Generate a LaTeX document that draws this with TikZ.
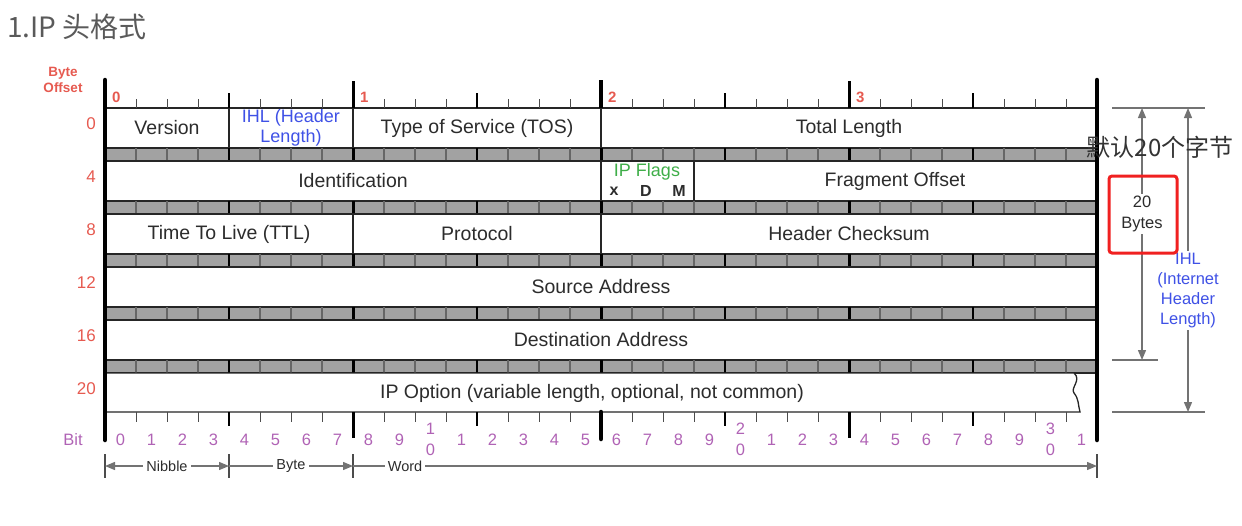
\documentclass[tikz,border=0pt]{standalone}
\usepackage{fontspec}
\setmainfont{Liberation Sans}
\newfontfamily\cjk{Noto Sans CJK SC}
\usetikzlibrary{arrows.meta, positioning, calc}
\definecolor{fieldtext}{HTML}{2C2C2C}
\definecolor{offsetred}{HTML}{E65A50}
\definecolor{bitpurple}{HTML}{B063B5}
\definecolor{flaggreen}{HTML}{3FAE49}
\definecolor{ihlblue}{HTML}{3F51E6}
\definecolor{bargrey}{HTML}{A2A2A2}
\definecolor{titlegrey}{HTML}{5A5A5A}
\definecolor{notered}{HTML}{F02020}
\begin{document}
\begin{tikzpicture}[x=1pt, y=-1pt,
    >={Triangle[length=10pt, width=8pt]},
    fld/.style={font=\fontsize{19.5}{21}\selectfont, text=fieldtext, inner sep=0pt, align=center},
    offs/.style={font=\fontsize{17}{19}\selectfont, text=offsetred, anchor=east, inner sep=0pt},
    bytelbl/.style={font=\bfseries\fontsize{15}{17}\selectfont, text=offsetred, anchor=west, inner sep=0pt},
    bitlbl/.style={font=\fontsize{16.5}{18}\selectfont, text=bitpurple, inner sep=0pt},
    unitlbl/.style={font=\fontsize{14.5}{16}\selectfont, text=fieldtext, fill=white, inner sep=3pt},
    box/.style={draw=black!85, line width=1.3pt, fill=white},
    sep/.style={black!85, line width=1.3pt},
    border/.style={black, line width=4.5pt, line cap=round},
    dim/.style={black!55, line width=1.3pt},
    bartick/.style={black!60, line width=1.2pt}]
  \useasboundingbox (0,0) rectangle (1242,525);
  \node[font=\cjk\fontsize{28}{30}\selectfont, text=titlegrey, anchor=west, inner sep=0pt] (title) at (7,27) {1.IP 头格式};
  % rows with grey bars below
  \foreach \r in {0,...,4} {
    \draw[box] (105,108+53*\r) rectangle (1097,148+53*\r);
    \fill[bargrey] (105,148+53*\r) rectangle (1097,161+53*\r);
    \draw[black!85, line width=1.2pt] (105,148+53*\r) -- (1097,148+53*\r) (105,161+53*\r) -- (1097,161+53*\r);
    \foreach \b in {1,...,31}
      \draw[bartick] (105+31*\b,148+53*\r) -- ++(0,13);
    \foreach \b in {4,12,20,28}
      \draw[black, line width=2.2pt] (105+31*\b,148+53*\r) -- ++(0,13);
    \foreach \b in {8,16,24}
      \draw[black, line width=3pt] (105+31*\b,148+53*\r) -- ++(0,13);
  }
  \draw[box] (105,373) -- (1074,373) .. controls (1082,380) and (1070,388) .. (1074,393) .. controls (1079,399) and (1078,405) .. (1080,412) -- (105,412) -- cycle;
  % rulers
  \foreach \b in {1,...,31} {
    \draw[black!70, line width=1pt] (105+31*\b,99) -- (105+31*\b,108);
    \draw[black!70, line width=1pt] (105+31*\b,412) -- (105+31*\b,422);
  }
  \foreach \b in {4,12,20,28} {
    \draw[black, line width=2pt] (105+31*\b,93) -- (105+31*\b,108);
    \draw[black, line width=2pt] (105+31*\b,412) -- (105+31*\b,426);
  }
  \foreach \b in {8,24} {
    \draw[black, line width=3pt] (105+31*\b,81) -- (105+31*\b,108);
    \draw[black, line width=3pt] (105+31*\b,412) -- (105+31*\b,438);
  }
  \draw[black, line width=4.5pt] (601,80) -- (601,108);
  \draw[black, line width=4.5pt, line cap=round] (601,412) -- (601,439);
  % field separators
  \foreach \x in {229,353,601} \draw[sep] (\x,108) -- (\x,148);
  \foreach \x in {601,694} \draw[sep] (\x,161) -- (\x,201);
  \foreach \x in {353,601} \draw[sep] (\x,214) -- (\x,254);
  \draw[border] (105,80) -- (105,440);
  \draw[border] (1097,80) -- (1097,440);
  % fields
  \node[fld] (version) at (167,128) {Version};
  \node[fld, text=ihlblue, font=\fontsize{18}{19.5}\selectfont] (ihl) at (291,128) {IHL (Header\\Length)};
  \node[fld] (tos) at (477,128) {Type of Service (TOS)};
  \node[fld] (totlen) at (849,128) {Total Length};
  \node[fld] (ident) at (353,181) {Identification};
  \node[fld, text=flaggreen, font=\fontsize{18}{20}\selectfont] (flags) at (647,172) {IP Flags};
  \foreach \f/\x in {x/614, D/646, M/679}
    \node[fld, font=\bfseries\fontsize{16}{18}\selectfont] (flag\f) at (\x,191) {\f};
  \node[fld] (fragoff) at (895,181) {Fragment Offset};
  \node[fld] (ttl) at (229,234) {Time To Live (TTL)};
  \node[fld] (proto) at (477,234) {Protocol};
  \node[fld] (cksum) at (849,234) {Header Checksum};
  \node[fld] (src) at (601,287) {Source Address};
  \node[fld] (dst) at (601,340) {Destination Address};
  \node[fld] (opt) at (592,393) {IP Option (variable length, optional, not common)};
  % offsets and bit numbers
  \node[font=\bfseries\fontsize{13.5}{15.5}\selectfont, text=offsetred, align=center, inner sep=0pt] (byteoff) at (63,80) {Byte\\Offset};
  \foreach \o [count=\r from 0] in {0,4,8,12,16,20}
    \node[offs] (off\o) at (96,124+53*\r) {\o};
  \foreach \n in {0,...,3}
    \node[bytelbl] (byte\n) at (112+248*\n,97) {\n};
  \node[bitlbl] (bitlbl) at (73,440) {Bit};
  \foreach \t in {0,1,2} {
    \foreach \u in {1,...,9}
      \node[bitlbl] (bit\t\u) at (120.5+310*\t+31*\u,440) {\u};
  }
  \node[bitlbl] (bit00) at (120.5,440) {0};
  \node[bitlbl] (bit31) at (120.5+31*31,440) {1};
  \foreach \t in {1,2,3} {
    \node[bitlbl] (tens\t) at (120.5+310*\t,429) {\t};
    \node[bitlbl] (ones\t) at (120.5+310*\t,450) {0};
  }
  % nibble / byte / word
  \foreach \x [count=\i from 0] in {105,229,353,1097} {
    \coordinate (u\i) at (\x,466);
    \draw[black!70, line width=1.2pt] (\x,454) -- (\x,478);
  }
  \draw[dim, <->] (u0) -- node[unitlbl] (nibble) {Nibble} (u1);
  \draw[dim, ->] (u1) -- node[unitlbl] (byte) {Byte} (u2);
  \draw[dim, ->] (u2) -- node[unitlbl, pos=0.07] (word) {Word} (u3);
  % header length dimensions
  \draw[dim] (1112,108) -- (1205,108);
  \draw[dim] (1112,360) -- (1158,360);
  \draw[dim] (1112,412) -- (1205,412);
  \coordinate (bt) at (1142,108);
  \coordinate (bb) at (1142,360);
  \coordinate (it) at (1188,108);
  \coordinate (ib) at (1188,412);
  \draw[dim, <->] (bt) -- node[pos=0.42, fill=white, fld, font=\fontsize{16.5}{21}\selectfont, inner sep=2pt] (bytes) {20\\Bytes} (bb);
  \draw[dim, <->] (it) -- node[pos=0.6, fill=white, fld, text=ihlblue, font=\fontsize{16.5}{20}\selectfont, inner sep=2pt] (ihllen) {IHL\\(Internet\\Header\\Length)} (ib);
  \draw[notered, line width=3pt, rounded corners=3pt] (1109,176) rectangle (1177,253);
  \node[font=\cjk\fontsize{24}{26}\selectfont, text=black!80, inner sep=0pt] (note) at (1160,147) {默认20个字节};
\end{tikzpicture}
\end{document}
